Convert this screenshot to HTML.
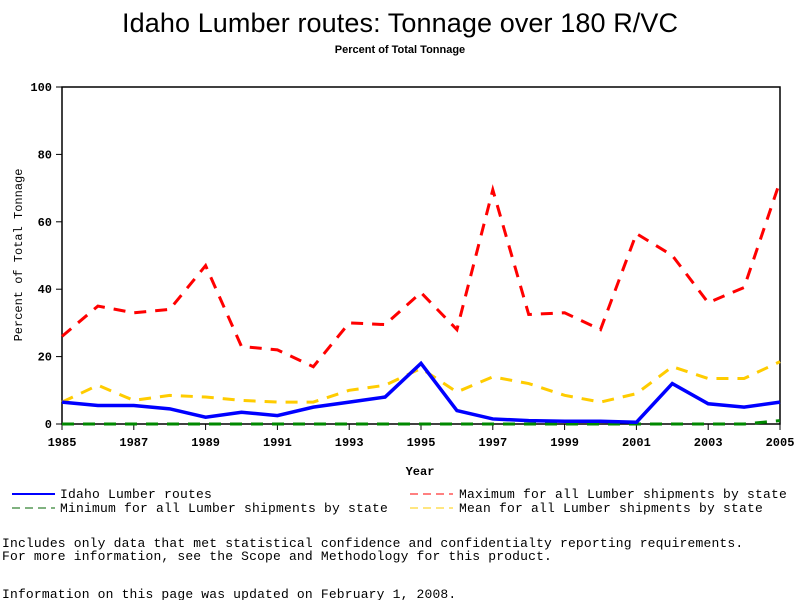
<!DOCTYPE html>
<html><head><meta charset="utf-8"><style>
body{margin:0;background:#fff;width:800px;height:600px;overflow:hidden;font-family:"Liberation Mono",monospace;}
svg text{font-family:"Liberation Mono",monospace;}
</style></head><body>
<svg id="chart" width="800" height="600">
<text x="400" y="32" text-anchor="middle" font-size="27" textLength="556" style="font-family:'Liberation Sans',sans-serif">Idaho Lumber routes: Tonnage over 180 R/VC</text>
<text x="400" y="53" text-anchor="middle" font-size="11" font-weight="bold" style="font-family:'Liberation Sans',sans-serif">Percent of Total Tonnage</text>
<rect x="62" y="87" width="718" height="337" fill="none" stroke="#000" stroke-width="1.5"/>
<g id="ticks"></g>
<g id="series"></g>
<text x="420" y="475" text-anchor="middle" font-size="12" font-weight="bold">Year</text>
<text transform="translate(22,255) rotate(-90)" text-anchor="middle" font-size="12">Percent of Total Tonnage</text>
<g font-size="13" style="letter-spacing:0.2px">
<line x1="12" y1="494" x2="55" y2="494" stroke="#00f" stroke-width="2"/>
<text x="60" y="498">Idaho Lumber routes</text>
<line x1="12" y1="508" x2="55" y2="508" stroke="#060" stroke-width="1" stroke-dasharray="8,5"/>
<text x="60" y="512">Minimum for all Lumber shipments by state</text>
<line x1="410" y1="494" x2="453" y2="494" stroke="#f00" stroke-width="1" stroke-dasharray="8,5"/>
<text x="459" y="498">Maximum for all Lumber shipments by state</text>
<line x1="410" y1="508" x2="453" y2="508" stroke="#fc0" stroke-width="1" stroke-dasharray="8,5"/>
<text x="459" y="512">Mean for all Lumber shipments by state</text>
</g>
<g font-size="13" style="letter-spacing:0.17px">
<text x="2" y="547">Includes only data that met statistical confidence and confidentialty reporting requirements.</text>
<text x="2" y="560">For more information, see the Scope and Methodology for this product.</text>
<text x="2" y="598">Information on this page was updated on February 1, 2008.</text>
</g>
</svg>
<script>
const years=[1985,1986,1987,1988,1989,1990,1991,1992,1993,1994,1995,1996,1997,1998,1999,2000,2001,2002,2003,2004,2005];
const idaho=[6.5,5.5,5.5,4.5,2,3.5,2.5,5,6.5,8,18,4,1.5,1,0.8,0.8,0.5,12,6,5,6.5];
const maxVals=[26,35,33,34,47,23,22,17,30,29.5,39,28,69.5,32.5,33,28,56.5,50,36,40.5,72];
const meanVals=[6.5,11.5,7,8.5,8,7,6.5,6.5,10,11.5,16.5,9.5,14,12,8.5,6.5,9,17,13.5,13.5,18.5];
const minVals=[0,0,0,0,0,0,0,0,0,0,0,0,0,0,0,0,0,0,0,0,1];
const yTicks=[0,20,40,60,80,100];
const xTicks=[1985,1987,1989,1991,1993,1995,1997,1999,2001,2003,2005];
const NS='http://www.w3.org/2000/svg';
const X=v=>62+(v-1985)*(718/20);
const Y=v=>424-v*3.37;
const tg=document.getElementById('ticks'), sg=document.getElementById('series');
function mk(tag,attrs,parent){const e=document.createElementNS(NS,tag);for(const k in attrs)e.setAttribute(k,attrs[k]);parent.appendChild(e);return e;}
yTicks.forEach(t=>{
 const l=mk('line',{x1:56,x2:62,y1:Y(t),y2:Y(t),stroke:'#000'},tg);
 
 
 const tx=mk('text',{x:52,y:Y(t)+4,'text-anchor':'end','font-size':12,'font-weight':'bold'},tg);tx.textContent=t;
 
 
});
xTicks.forEach(t=>{
 const l=mk('line',{x1:X(t),x2:X(t),y1:424,y2:430,stroke:'#000'},tg);
 
 
 const tx=mk('text',{x:X(t),y:446,'text-anchor':'middle','font-size':12,'font-weight':'bold'},tg);tx.textContent=t;
 
 
});
function line(vals,color,w,dash,name){
 const p=mk('polyline',{points:vals.map((v,i)=>X(years[i])+','+Y(v)).join(' '),fill:'none',stroke:color,'stroke-width':w},sg);
 if(dash)p.setAttribute('stroke-dasharray',dash);
 
 
}
line(maxVals,'#f00',3,'12,9','series-max');
line(meanVals,'#fc0',3,'12,9','series-mean');
line(minVals,'#080',3,'12,9','series-min');
line(idaho,'#00f',3.5,null,'series-idaho');
</script>
</body></html>
